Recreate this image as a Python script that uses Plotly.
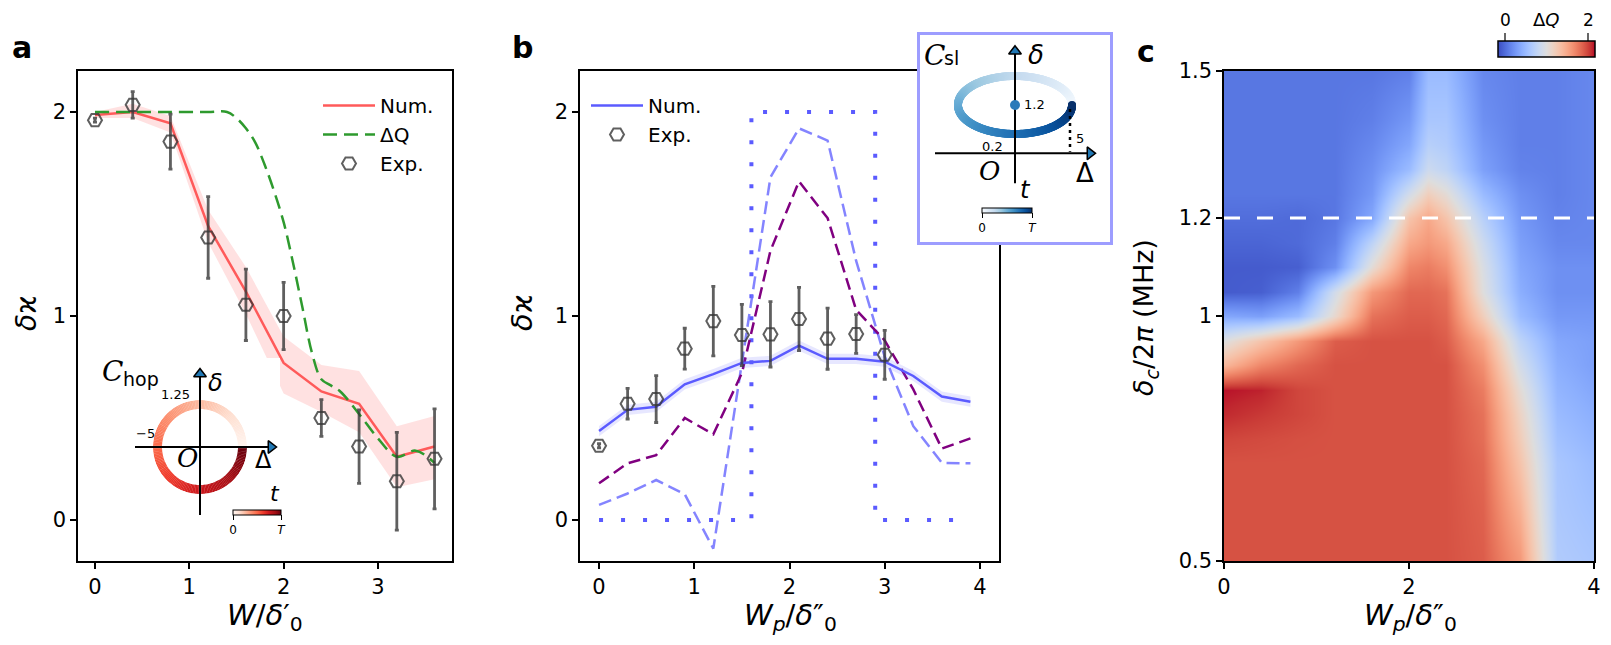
import numpy as np
import plotly.graph_objects as go

W, H = 1611, 645
OFF = 8  # page body margin of the exported HTML
def px(x): return (x - OFF) / W
def py(y): return 1 - (y - OFF) / H

FONT = "DejaVu Sans"

# ---------------- Panel a data ----------------
a_x = [0, 0.4, 0.8, 1.2, 1.6, 2.0, 2.4, 2.8, 3.2, 3.6]
a_num = [1.985, 2.0, 1.945, 1.44, 1.12, 0.77, 0.63, 0.57, 0.31, 0.36]
a_num_hi = [2.0, 2.04, 1.98, 1.52, 1.24, 0.90, 0.76, 0.73, 0.46, 0.51]
a_num_lo = [1.97, 1.97, 1.90, 1.36, 1.01, 0.62, 0.53, 0.43, 0.16, 0.20]
a_exp = [1.96, 2.035, 1.855, 1.385, 1.055, 1.0, 0.50, 0.36, 0.19, 0.30]
a_err = [0.01, 0.065, 0.135, 0.2, 0.175, 0.165, 0.09, 0.18, 0.24, 0.245]
dq_x = [0, 0.4, 0.8, 1.2, 1.4, 1.5, 1.6, 1.7, 1.8, 1.9, 2.0, 2.1, 2.2, 2.3, 2.4, 2.5, 2.6, 2.8, 3.0, 3.2, 3.4, 3.6]
dq_y = [2.0, 2.0, 2.0, 2.0, 2.0, 1.97, 1.92, 1.85, 1.74, 1.61, 1.46, 1.26, 1.04, 0.82, 0.69, 0.66, 0.63, 0.52, 0.40, 0.31, 0.34, 0.28]

# ---------------- Panel b data ----------------
b_x = [0, 0.3, 0.6, 0.9, 1.2, 1.5, 1.8, 2.1, 2.4, 2.7, 3.0, 3.3, 3.6, 3.9]
b_num = [0.436, 0.54, 0.555, 0.665, 0.715, 0.77, 0.78, 0.855, 0.79, 0.79, 0.776, 0.706, 0.605, 0.58]
b_num_err = [0.025] * 14
b_purple = [0.18, 0.278, 0.318, 0.50, 0.42, 0.72, 1.32, 1.66, 1.48, 1.03, 0.88, 0.64, 0.35, 0.40]
b_light = [0.074, 0.13, 0.196, 0.126, -0.14, 0.78, 1.68, 1.92, 1.86, 1.27, 0.80, 0.46, 0.28, 0.278]
b_exp_x = [0, 0.3, 0.6, 0.9, 1.2, 1.5, 1.8, 2.1, 2.4, 2.7, 3.0]
b_exp = [0.364, 0.57, 0.593, 0.84, 0.975, 0.907, 0.91, 0.985, 0.889, 0.912, 0.81]
b_err = [0.01, 0.075, 0.115, 0.1, 0.17, 0.15, 0.16, 0.155, 0.15, 0.095, 0.12]
step_x = [0, 1.6, 1.6, 2.9, 2.9, 3.9]
step_y = [0, 0, 2, 2, 0, 0]

# ---------------- Panel c data ----------------
hm_x = [0, 0.4, 0.8, 1.2, 1.6, 2.0, 2.2, 2.4, 2.8, 3.2, 3.6, 4.0]
hm_y = [0.5, 0.6, 0.7, 0.75, 0.8, 0.85, 0.9, 0.95, 1.0, 1.05, 1.1, 1.15, 1.2, 1.25, 1.3, 1.35, 1.4, 1.5]
hm_z = [
    [1.95, 1.95, 1.95, 1.95, 1.95, 1.95, 1.95, 1.95, 1.90, 1.60, 0.65, 0.60],
    [1.95, 1.95, 1.95, 1.95, 1.95, 1.95, 1.95, 1.95, 1.88, 1.45, 0.62, 0.55],
    [1.95, 1.95, 1.95, 1.95, 1.95, 1.95, 1.95, 1.95, 1.85, 1.30, 0.60, 0.50],
    [2.00, 1.98, 1.96, 1.95, 1.95, 1.95, 1.95, 1.95, 1.82, 1.22, 0.55, 0.45],
    [2.10, 2.05, 2.00, 1.95, 1.95, 1.95, 1.95, 1.95, 1.80, 1.15, 0.50, 0.40],
    [2.15, 2.12, 2.00, 1.95, 1.95, 1.95, 1.95, 1.95, 1.75, 1.05, 0.45, 0.35],
    [1.40, 1.70, 1.85, 1.95, 1.95, 1.95, 1.95, 1.95, 1.65, 0.90, 0.40, 0.30],
    [1.00, 1.30, 1.60, 1.90, 1.95, 1.95, 1.95, 1.90, 1.50, 0.75, 0.35, 0.30],
    [0.35, 0.30, 0.50, 1.10, 1.80, 1.90, 1.90, 1.85, 1.20, 0.50, 0.25, 0.25],
    [-0.10, -0.08, 0.10, 0.90, 1.60, 1.85, 1.85, 1.80, 1.00, 0.40, 0.20, 0.20],
    [-0.10, -0.10, -0.08, 0.20, 1.05, 1.70, 1.75, 1.65, 0.95, 0.35, 0.20, 0.20],
    [-0.05, -0.05, -0.02, 0.10, 0.75, 1.50, 1.60, 1.50, 0.85, 0.30, 0.15, 0.15],
    [0.00, 0.00, -0.02, 0.05, 0.35, 1.30, 1.50, 1.30, 0.70, 0.25, 0.12, 0.15],
    [0.05, 0.05, 0.05, 0.05, 0.25, 0.90, 1.20, 1.05, 0.50, 0.20, 0.10, 0.15],
    [0.05, 0.05, 0.05, 0.05, 0.20, 0.50, 0.85, 0.75, 0.30, 0.12, 0.10, 0.15],
    [0.05, 0.05, 0.05, 0.05, 0.15, 0.35, 0.70, 0.65, 0.25, 0.10, 0.10, 0.15],
    [0.05, 0.05, 0.05, 0.05, 0.10, 0.25, 0.60, 0.60, 0.20, 0.10, 0.10, 0.15],
    [0.05, 0.05, 0.05, 0.05, 0.05, 0.10, 0.50, 0.50, 0.15, 0.10, 0.10, 0.15],
]
c_ref_level = 1.2
dq_min, dq_max = -0.18, 2.18

coolwarm = [
    (59, 76, 192), (68, 90, 204), (77, 104, 215), (87, 117, 225), (98, 130, 234),
    (108, 142, 241), (119, 154, 247), (130, 165, 251), (141, 176, 254), (152, 185, 255),
    (163, 194, 255), (174, 201, 253), (184, 208, 249), (194, 213, 244), (204, 217, 238),
    (213, 219, 230), (221, 221, 221), (229, 216, 209), (236, 211, 197), (241, 204, 184),
    (245, 196, 172), (247, 187, 160), (247, 177, 148), (247, 166, 135), (244, 154, 123),
    (241, 141, 111), (236, 127, 99), (229, 112, 88), (222, 96, 77), (213, 80, 66),
    (203, 62, 56), (192, 40, 47), (180, 4, 38)]
coolwarm_cs = [[i / (len(coolwarm) - 1), "rgb(%d,%d,%d)" % c] for i, c in enumerate(coolwarm)]
reds = ["#fff5f0", "#fee0d2", "#fcbba1", "#fc9272", "#fb6a4a", "#ef3b2c", "#cb181d", "#a50f15", "#67000d"]
blues = ["#f7fbff", "#deebf7", "#c6dbef", "#9ecae1", "#6baed6", "#4292c6", "#2171b5", "#08519c", "#08306b"]
reds_cs = [[i / 8, c] for i, c in enumerate(reds)]
blues_cs = [[i / 8, c] for i, c in enumerate(blues)]

# inset schematic parameters
ring_inner, ring_outer = 38, 47          # ring of inset a (px)
ring_deg = np.arange(0, 360, 2) + 1.0    # angular bins
ring_t = ring_deg / 360.0
ell_a, ell_b, ell_cy = 57, 29, 48.3      # ellipse of inset b (px)
theta = np.linspace(0.02, 2 * np.pi, 400)
tparam = theta / (2 * np.pi)

RED = "#ff5a5a"
GREEN = "#2e9a2e"
BLUE = "#5b5bff"
LBLUE = "rgba(110,110,255,0.85)"
PURPLE = "#800080"
EXPC = "rgba(55,55,55,0.8)"

fig = go.Figure()

# ---------- Panel a ----------
fig.add_trace(go.Scatter(x=a_x + a_x[::-1], y=a_num_hi + a_num_lo[::-1], fill="toself",
                         fillcolor="rgba(255,90,90,0.18)", line=dict(width=0),
                         hoverinfo="skip", showlegend=False, xaxis="x", yaxis="y"))
fig.add_trace(go.Scatter(x=a_x, y=a_num, mode="lines", line=dict(color=RED, width=2.5),
                         name="Num.", legend="legend", legendgroup="a1", xaxis="x", yaxis="y"))
fig.add_trace(go.Scatter(x=dq_x, y=dq_y, mode="lines", line=dict(color=GREEN, width=2.5, dash="14px,7px"),
                         line_shape="spline", name="ΔQ", legend="legend", legendgroup="a2", xaxis="x", yaxis="y"))
fig.add_trace(go.Scatter(x=a_x, y=a_exp, mode="markers", name="Exp.", legend="legend", legendgroup="a3",
                         marker=dict(symbol="hexagon2-open", size=14, color=EXPC, line=dict(width=2, color=EXPC)),
                         error_y=dict(type="data", array=a_err, color=EXPC, thickness=2.8, width=2),
                         xaxis="x", yaxis="y"))

# ---------- Panel b ----------
fig.add_trace(go.Scatter(x=step_x, y=step_y, mode="lines", line=dict(color=BLUE, width=4, dash="4px,18px"),
                         showlegend=False, xaxis="x2", yaxis="y2"))
fig.add_trace(go.Scatter(x=b_x, y=b_light, mode="lines", line=dict(color=LBLUE, width=2.5, dash="13px,6px"),
                         showlegend=False, xaxis="x2", yaxis="y2"))
fig.add_trace(go.Scatter(x=b_x, y=b_purple, mode="lines", line=dict(color=PURPLE, width=2.5, dash="12px,6px"),
                         showlegend=False, xaxis="x2", yaxis="y2"))
b_hi = [v + e for v, e in zip(b_num, b_num_err)]
b_lo = [v - e for v, e in zip(b_num, b_num_err)]
fig.add_trace(go.Scatter(x=b_x + b_x[::-1], y=b_hi + b_lo[::-1], fill="toself",
                         fillcolor="rgba(91,91,255,0.15)", line=dict(width=0),
                         hoverinfo="skip", showlegend=False, xaxis="x2", yaxis="y2"))
fig.add_trace(go.Scatter(x=b_x, y=b_num, mode="lines", line=dict(color=BLUE, width=2.5),
                         name="Num.", legend="legend2", legendgroup="b1", xaxis="x2", yaxis="y2"))
fig.add_trace(go.Scatter(x=b_exp_x, y=b_exp, mode="markers", name="Exp.", legend="legend2", legendgroup="b2",
                         marker=dict(symbol="hexagon2-open", size=14, color=EXPC, line=dict(width=2, color=EXPC)),
                         error_y=dict(type="data", array=b_err, color=EXPC, thickness=2.8, width=2),
                         xaxis="x2", yaxis="y2"))

# ---------- Panel c ----------
fig.add_trace(go.Heatmap(x=hm_x, y=hm_y, z=hm_z, zsmooth="best", colorscale=coolwarm_cs,
                         zmin=dq_min, zmax=dq_max, xaxis="x3", yaxis="y3",
                         colorbar=dict(orientation="h", x=px(1546.5), xanchor="center", y=py(41), yanchor="top",
                                       len=97, lenmode="pixels", thickness=16, thicknessmode="pixels",
                                       outlinewidth=1.5, outlinecolor="black", showticklabels=False, ticks="",
                                       xpad=0, ypad=0)))
fig.add_trace(go.Scatter(x=[0, 4], y=[c_ref_level, c_ref_level], mode="lines",
                         line=dict(color="white", width=3, dash="16px,17px"),
                         showlegend=False, xaxis="x3", yaxis="y3"))

# ---------- Inset a (ring, as polar bars) ----------
fig.add_trace(go.Barpolar(theta=ring_deg, r=[ring_outer - ring_inner] * len(ring_deg),
                          base=[ring_inner] * len(ring_deg), width=[2.3] * len(ring_deg),
                          marker=dict(color=ring_t, colorscale=reds_cs, cmin=0, cmax=1, line=dict(width=0),
                                      colorbar=dict(orientation="h", x=px(257), xanchor="center", y=py(510),
                                                    yanchor="top", len=48, lenmode="pixels", thickness=5,
                                                    thicknessmode="pixels", outlinewidth=1, outlinecolor="black",
                                                    tickvals=[0, 1], ticktext=["0", "<i>T</i>"], ticks="outside",
                                                    ticklen=5, tickcolor="black",
                                                    tickfont=dict(size=12, color="black"), xpad=0, ypad=0)),
                          showlegend=False, subplot="polar"))
fig.add_trace(go.Scatter(x=[71], y=[0], mode="markers",
                         marker=dict(symbol="triangle-right", size=11, color="#1f77b4", line=dict(color="black", width=1.5)),
                         showlegend=False, xaxis="x4", yaxis="y4"))
fig.add_trace(go.Scatter(x=[0], y=[73], mode="markers",
                         marker=dict(symbol="triangle-up", size=11, color="#1f77b4", line=dict(color="black", width=1.5)),
                         showlegend=False, xaxis="x4", yaxis="y4"))

# ---------- Inset b (ellipse) ----------
fig.add_trace(go.Scatter(x=ell_a * np.cos(theta), y=ell_cy + ell_b * np.sin(theta), mode="markers",
                         marker=dict(size=8, color=tparam, colorscale=blues_cs, cmin=0, cmax=1, line=dict(width=0),
                                     colorbar=dict(orientation="h", x=px(1007), xanchor="center", y=py(208),
                                                   yanchor="top", len=50, lenmode="pixels", thickness=5,
                                                   thicknessmode="pixels", outlinewidth=1, outlinecolor="black",
                                                   tickvals=[0, 1], ticktext=["0", "<i>T</i>"], ticks="outside",
                                                   ticklen=5, tickcolor="black", tickfont=dict(size=12, color="black"),
                                                   xpad=0, ypad=0)),
                         showlegend=False, xaxis="x5", yaxis="y5"))
fig.add_trace(go.Scatter(x=[-80, 74], y=[0, 0], mode="lines", line=dict(color="black", width=2),
                         showlegend=False, xaxis="x5", yaxis="y5"))
fig.add_trace(go.Scatter(x=[0, 0], y=[-30, 102], mode="lines", line=dict(color="black", width=2),
                         showlegend=False, xaxis="x5", yaxis="y5"))
fig.add_trace(go.Scatter(x=[ell_a - 2, ell_a - 2], y=[ell_cy - 4, 1.5], mode="lines",
                         line=dict(color="black", width=2.5, dash="3px,4px"),
                         showlegend=False, xaxis="x5", yaxis="y5"))
fig.add_trace(go.Scatter(x=[0], y=[ell_cy], mode="markers", marker=dict(size=10, color="#2a7ab9"),
                         showlegend=False, xaxis="x5", yaxis="y5"))
fig.add_trace(go.Scatter(x=[75], y=[0], mode="markers",
                         marker=dict(symbol="triangle-right", size=11, color="#1f77b4", line=dict(color="black", width=1.5)),
                         showlegend=False, xaxis="x5", yaxis="y5"))
fig.add_trace(go.Scatter(x=[0], y=[102], mode="markers",
                         marker=dict(symbol="triangle-up", size=11, color="#1f77b4", line=dict(color="black", width=1.5)),
                         showlegend=False, xaxis="x5", yaxis="y5"))

# ---------- Axes ----------
TOP, BOT = 71, 561
ax_common = dict(showline=True, linecolor="black", linewidth=1.5, mirror=True, ticks="outside",
                 ticklen=6, tickwidth=1.5, tickcolor="black", showgrid=False, zeroline=False,
                 tickfont=dict(size=21, color="black", family=FONT))
hidden = dict(visible=False, showgrid=False, zeroline=False)
box_ax = dict(showline=True, mirror=True, linecolor="#9d9dff", linewidth=3, showticklabels=False,
              ticks="", showgrid=False, zeroline=False)

fig.update_layout(
    width=W, height=H, margin=dict(l=0, r=0, t=0, b=0, autoexpand=False),
    paper_bgcolor="white", plot_bgcolor="white",
    font=dict(family=FONT, color="black"),
    xaxis=dict(domain=[px(78), px(452)], range=[-0.18, 3.785], tickvals=[0, 1, 2, 3], anchor="y", **ax_common),
    yaxis=dict(domain=[py(BOT), py(TOP)], range=[-0.201, 2.201], tickvals=[0, 1, 2], anchor="x", **ax_common),
    xaxis2=dict(domain=[px(580), px(999)], range=[-0.2, 4.2], tickvals=[0, 1, 2, 3, 4], anchor="y2", **ax_common),
    yaxis2=dict(domain=[py(BOT), py(TOP)], range=[-0.201, 2.201], tickvals=[0, 1, 2], anchor="x2", **ax_common),
    xaxis3=dict(domain=[px(1224), px(1594)], range=[0, 4], tickvals=[0, 2, 4], anchor="y3", **ax_common),
    yaxis3=dict(domain=[py(BOT), py(TOP)], range=[0.5, 1.5], tickvals=[0.5, 1, 1.2, 1.5],
                ticktext=["0.5", "1", "1.2", "1.5"], anchor="x3", **ax_common),
    xaxis4=dict(domain=[px(100), px(280)], range=[-100, 80], anchor="y4", **hidden),
    yaxis4=dict(domain=[py(545), py(358)], range=[-98, 89], anchor="x4", **hidden),
    xaxis5=dict(domain=[px(920), px(1110)], range=[-95, 95], anchor="y5", **box_ax),
    yaxis5=dict(domain=[py(242), py(35)], range=[-88.7, 118.3], anchor="x5", **box_ax),
    polar=dict(domain=dict(x=[px(200 - ring_outer), px(200 + ring_outer)],
                           y=[py(447 + ring_outer), py(447 - ring_outer)]),
               bgcolor="rgba(0,0,0,0)", hole=0,
               radialaxis=dict(range=[0, ring_outer], visible=False, showgrid=False),
               angularaxis=dict(visible=False, showgrid=False, rotation=0, direction="counterclockwise")),
    legend=dict(x=px(318), y=py(86), xanchor="left", yanchor="top", bgcolor="rgba(0,0,0,0)",
                font=dict(size=20, family=FONT), tracegroupgap=0, traceorder="grouped", itemwidth=52),
    legend2=dict(x=px(586), y=py(86), xanchor="left", yanchor="top", bgcolor="rgba(0,0,0,0)",
                 font=dict(size=20, family=FONT), tracegroupgap=0, traceorder="grouped", itemwidth=52),
)

ann = []
def A(text, x, y, size, xref="paper", yref="paper", angle=0, xanchor="center", yanchor="middle", color="black", family=FONT):
    ann.append(dict(text=text, x=x, y=y, xref=xref, yref=yref, showarrow=False, textangle=angle, borderpad=0,
                    xanchor=xanchor, yanchor=yanchor, font=dict(size=size, color=color, family=family)))

# panel labels
A("<b>a</b>", px(22), py(47), 30)
A("<b>b</b>", px(522), py(47), 30)
A("<b>c</b>", px(1146), py(52), 30)
# axis titles
A("<i>W</i>/<i>δ</i>′<sub>0</sub>", px(265), py(617), 29)
A("<i>W<sub>p</sub></i>/<i>δ</i>″<sub>0</sub>", px(790), py(617), 29)
A("<i>W<sub>p</sub></i>/<i>δ</i>″<sub>0</sub>", px(1410), py(617), 29)
A("<i>δ</i>ϰ", px(27), py(313), 28, angle=-90)
A("<i>δ</i>ϰ", px(522), py(313), 29, angle=-90)
A("<i>δ<sub>c</sub></i>/2<i>π</i> (MHz)", px(1145), py(318), 27, angle=-90)
# heatmap colorbar labels
A("0", px(1505), py(20), 17)
A("Δ<i>Q</i>", px(1546), py(20), 18)
A("2", px(1588), py(20), 17)

# inset a labels
A("<i>δ</i>", 15, 64, 24, "x4", "y4")
A("Δ", 63, -13, 24, "x4", "y4")
A("<i>O</i>", -13, -11, 26, "x4", "y4", family="DejaVu Serif")
A("1.25", -25, 53, 13, "x4", "y4")
A("−5", -55, 14, 13, "x4", "y4")
A("<i>C</i>", -88, 76, 28, "x4", "y4", family="DejaVu Serif")
A("hop", -59, 68, 19, "x4", "y4")
A("<i>t</i>", 75, -46, 22, "x4", "y4")
# inset b labels
A("<i>δ</i>", 21, 98, 26, "x5", "y5")
A("Δ", 70, -20, 26, "x5", "y5")
A("<i>O</i>", -25, -18, 26, "x5", "y5", family="DejaVu Serif")
A("1.2", 8, ell_cy, 13, "x5", "y5", xanchor="left")
A("0.2", -22, 7, 13, "x5", "y5")
A("5", 65, 15, 13, "x5", "y5")
A("<i>t</i>", 11, -37, 24, "x5", "y5")
A("<i>C</i>", -80, 98, 28, "x5", "y5", family="DejaVu Serif")
A("sl", -63, 95, 19, "x5", "y5")

shapes = []
for xx in (1505, 1588):
    shapes.append(dict(type="line", xref="paper", yref="paper", x0=px(xx), x1=px(xx), y0=py(33), y1=py(41),
                       line=dict(color="black", width=1.2)))
# inset a cross axes, drawn above the ring
shapes.append(dict(type="line", xref="x4", yref="y4", x0=-65, x1=68, y0=0, y1=0, layer="above",
                   line=dict(color="black", width=2)))
shapes.append(dict(type="line", xref="x4", yref="y4", x0=0, x1=0, y0=-68, y1=70, layer="above",
                   line=dict(color="black", width=2)))

fig.update_layout(annotations=ann, shapes=shapes)
fig.write_html("out.html")
